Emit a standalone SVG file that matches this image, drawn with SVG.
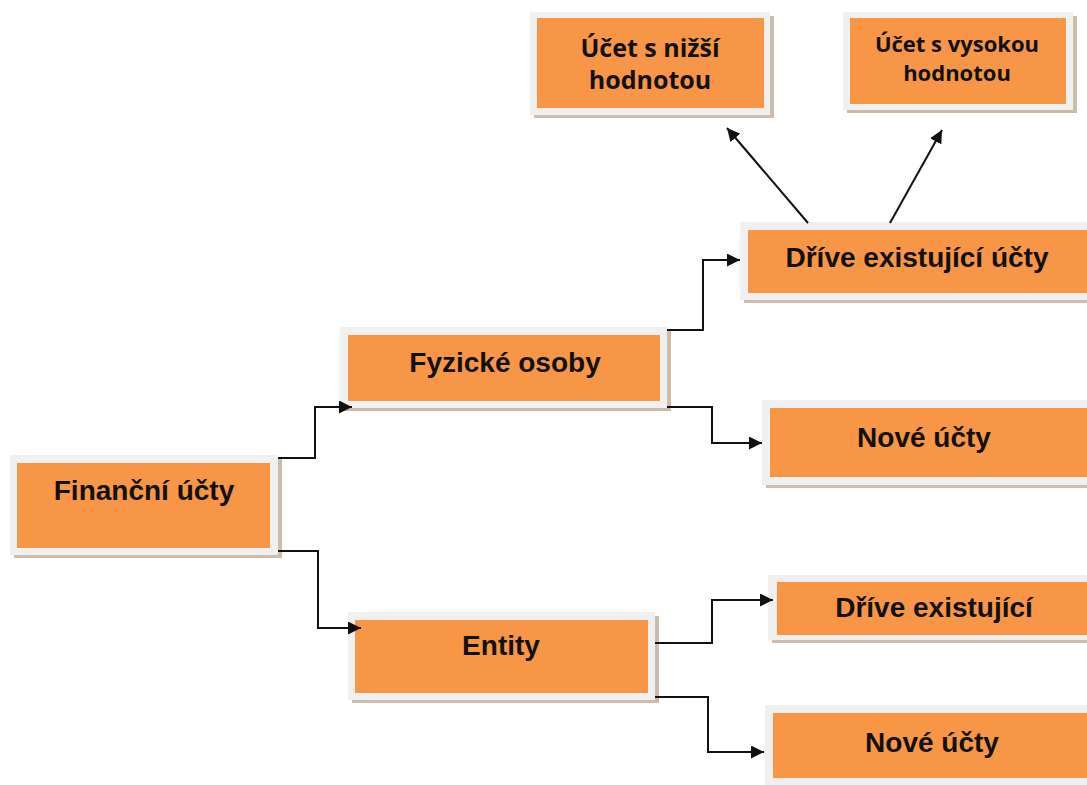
<svg xmlns="http://www.w3.org/2000/svg" width="1087" height="785" viewBox="0 0 1087 785">
<style>
.sh{fill:#cbbcab}
.fr{fill:#f0f0f0}
.in{fill:#f79646}
.t{font-family:"Liberation Sans",Arial,sans-serif;font-weight:bold;font-size:28px;fill:#111;text-anchor:middle}
.s{font-family:"Open Sans","Liberation Sans",sans-serif;font-weight:bold;font-size:25px;fill:#111;text-anchor:middle}
.c{fill:none;stroke:#111;stroke-width:2}
</style>
<defs>
<marker id="ah2" viewBox="0 0 10 10" refX="10" refY="5" markerWidth="13" markerHeight="13" markerUnits="userSpaceOnUse" orient="auto">
<path d="M0,0 L10,5 L0,10 z" fill="#111"/>
</marker>
</defs>
<rect width="1087" height="785" fill="#fff"/>
<g id="n-nizsi">
<rect class="sh" x="534" y="16" width="240" height="102"/>
<rect class="fr" x="530" y="12" width="240" height="103"/>
<rect class="in" x="537" y="18" width="227" height="90"/>
<text class="s" x="650" y="57">Účet s nižší</text>
<text class="s" x="650" y="89">hodnotou</text>
</g>
<g id="n-vysokou">
<rect class="sh" x="847" y="16" width="230" height="97"/>
<rect class="fr" x="843" y="12" width="230" height="98"/>
<rect class="in" x="850" y="18" width="216" height="86"/>
<text class="s" x="957" y="52" style="font-size:22px">Účet s vysokou</text>
<text class="s" x="957" y="81" style="font-size:22px">hodnotou</text>
</g>
<g id="n-drive1">
<rect class="sh" x="744" y="226" width="343" height="77"/>
<rect class="fr" x="740" y="222" width="347" height="78"/>
<rect class="in" x="748" y="230" width="339" height="63"/>
<text class="t" x="917" y="267">Dříve existující účty</text>
</g>
<g id="n-fyzicke">
<rect class="sh" x="344" y="331" width="327" height="80"/>
<rect class="fr" x="340" y="327" width="327" height="81"/>
<rect class="in" x="348" y="335" width="312" height="66"/>
<text class="t" x="505" y="372">Fyzické osoby</text>
</g>
<g id="n-nove1">
<rect class="sh" x="766" y="404" width="321" height="84"/>
<rect class="fr" x="762" y="400" width="325" height="85"/>
<rect class="in" x="770" y="408" width="317" height="69"/>
<text class="t" x="924" y="447">Nové účty</text>
</g>
<g id="n-financni">
<rect class="sh" x="14" y="459" width="268" height="99"/>
<rect class="fr" x="10" y="455" width="268" height="100"/>
<rect class="in" x="17" y="463" width="253" height="85"/>
<text class="t" x="144" y="500">Finanční účty</text>
</g>
<g id="n-entity">
<rect class="sh" x="352" y="616" width="307" height="87"/>
<rect class="fr" x="348" y="612" width="307" height="88"/>
<rect class="in" x="355" y="620" width="293" height="73"/>
<text class="t" x="501" y="655">Entity</text>
</g>
<g id="n-drive2">
<rect class="sh" x="772" y="579" width="315" height="64"/>
<rect class="fr" x="768" y="575" width="319" height="65"/>
<rect class="in" x="777" y="582" width="310" height="53"/>
<text class="t" x="934" y="617">Dříve existující</text>
</g>
<g id="n-nove2">
<rect class="sh" x="769" y="709" width="318" height="76"/>
<rect class="fr" x="765" y="705" width="322" height="80"/>
<rect class="in" x="773" y="713" width="314" height="65"/>
<text class="t" x="932" y="752">Nové účty</text>
</g>
<g id="connectors">
<path class="c" d="M278,458 H315 V407 H352" marker-end="url(#ah2)"/>
<path class="c" d="M278,551 H318 V628 H361" marker-end="url(#ah2)"/>
<path class="c" d="M667,330 H703 V260 H740" marker-end="url(#ah2)"/>
<path class="c" d="M667,407 H712 V443 H762" marker-end="url(#ah2)"/>
<path class="c" d="M655,643 H712 V600 H773" marker-end="url(#ah2)"/>
<path class="c" d="M655,697 H708 V752 H764" marker-end="url(#ah2)"/>
<path class="c" d="M808,223 L727,128" marker-end="url(#ah2)"/>
<path class="c" d="M890,223 L942,130" marker-end="url(#ah2)"/>
</g>
</svg>
